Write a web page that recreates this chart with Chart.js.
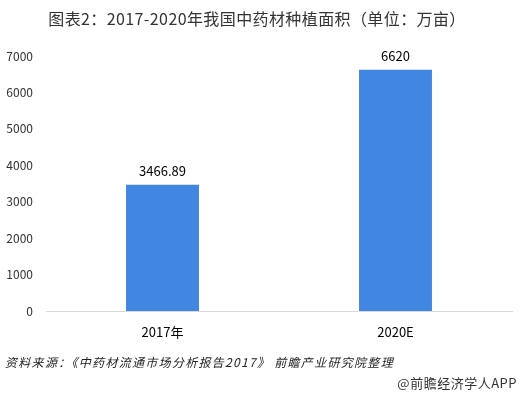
<!DOCTYPE html>
<html lang="zh">
<head>
    <meta charset="UTF-8">
    <title>中药材种植面积</title>
    <script src="https://cdn.jsdelivr.net/npm/chart.js"></script>
    <style>
        html, body { margin: 0; padding: 0; background: #fff; }
        #wrap { width: 519px; height: 394px; position: relative; }
    </style>
</head>
<body>
    <div id="wrap">
        <canvas id="myChart" width="519" height="394"></canvas>
    </div>

    <script>
        // 数据
        const categories = ['2017年', '2020E'];
        const values = [3466.89, 6620];
        const valueLabels = ['3466.89', '6620'];
        const yTicks = [0, 1000, 2000, 3000, 4000, 5000, 6000, 7000];

        const titleText = '图表2：2017-2020年我国中药材种植面积（单位：万亩）';
        const sourceText = '资料来源：《中药材流通市场分析报告2017》 前瞻产业研究院整理';
        const brandText = '@前瞻经济学人APP';

        const cjk = '"Noto Sans CJK SC", "Microsoft YaHei", sans-serif';

        // 标题、数值标签、来源文字
        const textPlugin = {
            id: 'texts',
            afterDatasetsDraw(chart) {
                const ctx = chart.ctx;
                ctx.save();
                ctx.fillStyle = '#000';
                ctx.font = '13px ' + cjk;
                ctx.textAlign = 'center';
                ctx.textBaseline = 'middle';
                const meta = chart.getDatasetMeta(0);
                meta.data.forEach((bar, i) => {
                    ctx.fillText(valueLabels[i], bar.x, bar.y - 14);
                });
                ctx.restore();
            },
            afterDraw(chart) {
                const ctx = chart.ctx;
                ctx.save();
                ctx.textBaseline = 'middle';

                ctx.fillStyle = '#333';
                ctx.font = '16px ' + cjk;
                ctx.letterSpacing = '0.4px';
                ctx.textAlign = 'center';
                ctx.fillText(titleText, 257, 19);

                ctx.fillStyle = '#222';
                ctx.font = 'italic 12px ' + cjk;
                ctx.letterSpacing = '1.3px';
                ctx.textAlign = 'left';
                ctx.fillText(sourceText, 5, 362);

                ctx.fillStyle = '#333';
                ctx.font = '13px ' + cjk;
                ctx.letterSpacing = '0.5px';
                ctx.textAlign = 'right';
                ctx.fillText(brandText, 517, 383);
                ctx.restore();
            }
        };

        const ctx = document.querySelector('#myChart').getContext('2d');
        new Chart(ctx, {
            type: 'bar',
            data: {
                labels: categories,
                datasets: [{
                    data: values,
                    backgroundColor: '#4186E0',
                    categoryPercentage: 1,
                    barPercentage: 0.313
                }]
            },
            options: {
                responsive: false,
                animation: false,
                layout: { padding: { left: 0, right: 7, top: 56, bottom: 0 } },
                plugins: {
                    legend: { display: false },
                    tooltip: { enabled: false }
                },
                scales: {
                    x: {
                        grid: { display: false, drawTicks: false },
                        border: { color: '#d9d9d9', width: 1 },
                        ticks: {
                            padding: 13,
                            color: '#000',
                            font: { size: 13, family: cjk }
                        },
                        afterFit(scale) { scale.height = 83; }
                    },
                    y: {
                        min: 0,
                        max: 7000,
                        grid: { display: false, drawTicks: false },
                        border: { display: false },
                        afterBuildTicks(scale) {
                            scale.ticks = yTicks.map(v => ({ value: v }));
                        },
                        ticks: {
                            padding: 13,
                            color: '#333',
                            font: { size: 12, family: cjk },
                            callback: (v) => String(v)
                        },
                        afterFit(scale) { scale.width = 46; }
                    }
                }
            },
            plugins: [textPlugin]
        });
    </script>
</body>
</html>
